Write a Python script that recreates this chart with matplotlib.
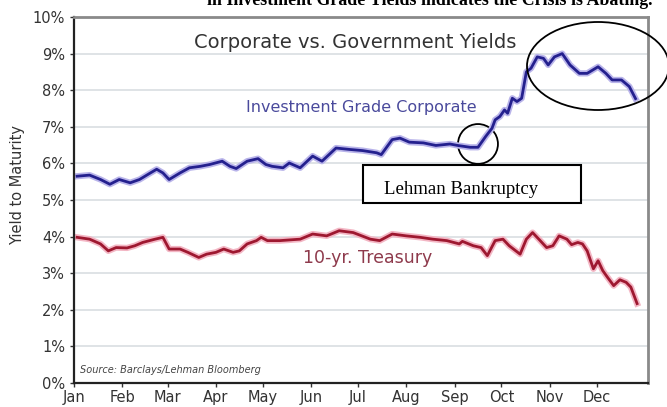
import matplotlib
matplotlib.use('Agg')
import matplotlib.pyplot as plt
from matplotlib.patches import Ellipse, Rectangle

# day of year (2008) for each reading
corp_days = [2, 10, 17, 23, 29, 36, 42, 49, 53, 57, 61, 68, 74, 81, 87, 95, 100, 104,
             111, 118, 123, 127, 134, 138, 145, 153, 159, 168, 177, 185, 194, 197, 204,
             209, 215, 224, 232, 241, 246, 254, 259, 264, 268, 270, 273, 276, 278, 281,
             284, 287, 290, 293, 297, 301, 304, 308, 313, 318, 324, 329, 336, 341, 345,
             351, 356, 360]
corp_yield = [5.65, 5.68, 5.56, 5.43, 5.56, 5.47, 5.56, 5.74, 5.84, 5.74, 5.56, 5.74,
              5.88, 5.92, 5.97, 6.06, 5.92, 5.86, 6.06, 6.13, 5.97, 5.92, 5.88, 6.01,
              5.88, 6.20, 6.06, 6.42, 6.38, 6.35, 6.29, 6.24, 6.65, 6.69, 6.58, 6.56,
              6.49, 6.53, 6.49, 6.44, 6.44, 6.74, 6.96, 7.19, 7.28, 7.46, 7.37, 7.78,
              7.69, 7.78, 8.50, 8.60, 8.91, 8.87, 8.69, 8.91, 9.00, 8.69, 8.46, 8.46,
              8.64, 8.46, 8.28, 8.28, 8.10, 7.77]

tsy_days = [2, 10, 17, 22, 27, 34, 39, 44, 52, 57, 61, 68, 73, 80, 85, 91, 96, 102, 106,
            111, 117, 120, 124, 132, 145, 153, 162, 170, 179, 190, 196, 204, 213, 222,
            230, 239, 247, 249, 256, 261, 265, 270, 275, 279, 286, 290, 294, 298, 303,
            307, 311, 316, 319, 323, 326, 329, 333, 336, 339, 342, 346, 350, 354, 357, 361]
tsy_yield = [3.98, 3.93, 3.80, 3.61, 3.70, 3.69, 3.75, 3.84, 3.93, 3.98, 3.66, 3.66,
             3.57, 3.43, 3.52, 3.57, 3.66, 3.57, 3.61, 3.80, 3.89, 3.98, 3.89, 3.89,
             3.93, 4.07, 4.02, 4.16, 4.11, 3.93, 3.89, 4.07, 4.02, 3.98, 3.93, 3.89,
             3.80, 3.87, 3.75, 3.70, 3.48, 3.89, 3.93, 3.75, 3.52, 3.93, 4.11, 3.93,
             3.70, 3.75, 4.02, 3.93, 3.78, 3.84, 3.80, 3.61, 3.12, 3.34, 3.07, 2.89,
             2.66, 2.82, 2.75, 2.62, 2.17]

month_starts = [0, 31, 60, 91, 121, 152, 182, 213, 244, 274, 305, 335]
month_labels = ['Jan', 'Feb', 'Mar', 'Apr', 'May', 'Jun', 'Jul', 'Aug', 'Sep', 'Oct', 'Nov', 'Dec']
y_ticks = list(range(0, 11))

plt.rcParams['font.family'] = ['DejaVu Sans']

fig = plt.figure(figsize=(6.67, 4.07), dpi=100)
ax = fig.add_axes([74 / 667, 1 - 383 / 407, 574 / 667, 366 / 407])

# soft glow under each line, then the line itself
ax.plot(corp_days, corp_yield, color='#b9b4ea', linewidth=4.5, solid_joinstyle='round')
ax.plot(corp_days, corp_yield, color='#24208e', linewidth=2.0, solid_joinstyle='round')
ax.plot(tsy_days, tsy_yield, color='#f3b6c4', linewidth=4.5, solid_joinstyle='round')
ax.plot(tsy_days, tsy_yield, color='#9e1830', linewidth=2.0, solid_joinstyle='round')

ax.set_xlim(0, 368)
ax.set_ylim(0, 10)
ax.set_xticks(month_starts)
ax.set_xticklabels(month_labels)
ax.set_yticks(y_ticks)
ax.set_yticklabels([f'{v}%' for v in y_ticks])
ax.tick_params(axis='both', labelsize=10.5, colors='#333333', length=3, width=1)
ax.tick_params(axis='x', pad=2)
ax.set_ylabel('Yield to Maturity', fontsize=10.5, color='#333333')
ax.yaxis.set_label_coords(-0.086, 0.54)

ax.yaxis.grid(True, color='#d9dee2', linewidth=1.2)
ax.set_axisbelow(True)
for side in ['left', 'bottom']:
    ax.spines[side].set_color('#222222')
    ax.spines[side].set_linewidth(1.6)
for side in ['top', 'right']:
    ax.spines[side].set_color('#8a8a8a')
    ax.spines[side].set_linewidth(2.0)

# chart texts
ax.text(0.49, 0.93, 'Corporate vs. Government Yields', transform=ax.transAxes,
        ha='center', va='center', fontsize=14, color='#333333')
ax.text(0.5, 0.754, 'Investment Grade Corporate', transform=ax.transAxes,
        ha='center', va='center', fontsize=11.5, color='#4a4a9c')
ax.text(0.512, 0.342, '10-yr. Treasury', transform=ax.transAxes,
        ha='center', va='center', fontsize=12.5, color='#8e3a4c')
ax.text(0.01, 0.035, 'Source: Barclays/Lehman Bloomberg', transform=ax.transAxes,
        ha='left', va='center', fontsize=7, style='italic', color='#444444')

# annotations drawn on top of the chart
fig.patches.append(Ellipse((598 / 667, 1 - 66 / 407), 142 / 667, 88 / 407,
                           transform=fig.transFigure, fill=False,
                           edgecolor='black', linewidth=1.3))
ax.add_patch(Ellipse((259, 6.53), 25.6, 1.09, fill=False, edgecolor='black', linewidth=1.3))

box = Rectangle((363 / 667, 1 - 203 / 407), 218 / 667, 38 / 407, transform=fig.transFigure,
                facecolor='white', edgecolor='black', linewidth=1.5)
fig.patches.append(box)
clip = Rectangle((363 / 667, 1 - 198 / 407), 218 / 667, 33 / 407, transform=fig.transFigure)
t = fig.text(384 / 667, 1 - 194 / 407, 'Lehman Bankruptcy', family='Liberation Serif',
             fontsize=13.5, color='black', ha='left', va='baseline')
t.set_clip_path(clip)

# headline cut off at the top of the image
fig.text(0.645, 1 - 5 / 407, 'in Investment Grade Yields indicates the Crisis is Abating.',
         family='Liberation Serif', fontweight='bold', fontsize=12.9, ha='center', va='baseline')

fig.savefig('out.png', dpi=100)
